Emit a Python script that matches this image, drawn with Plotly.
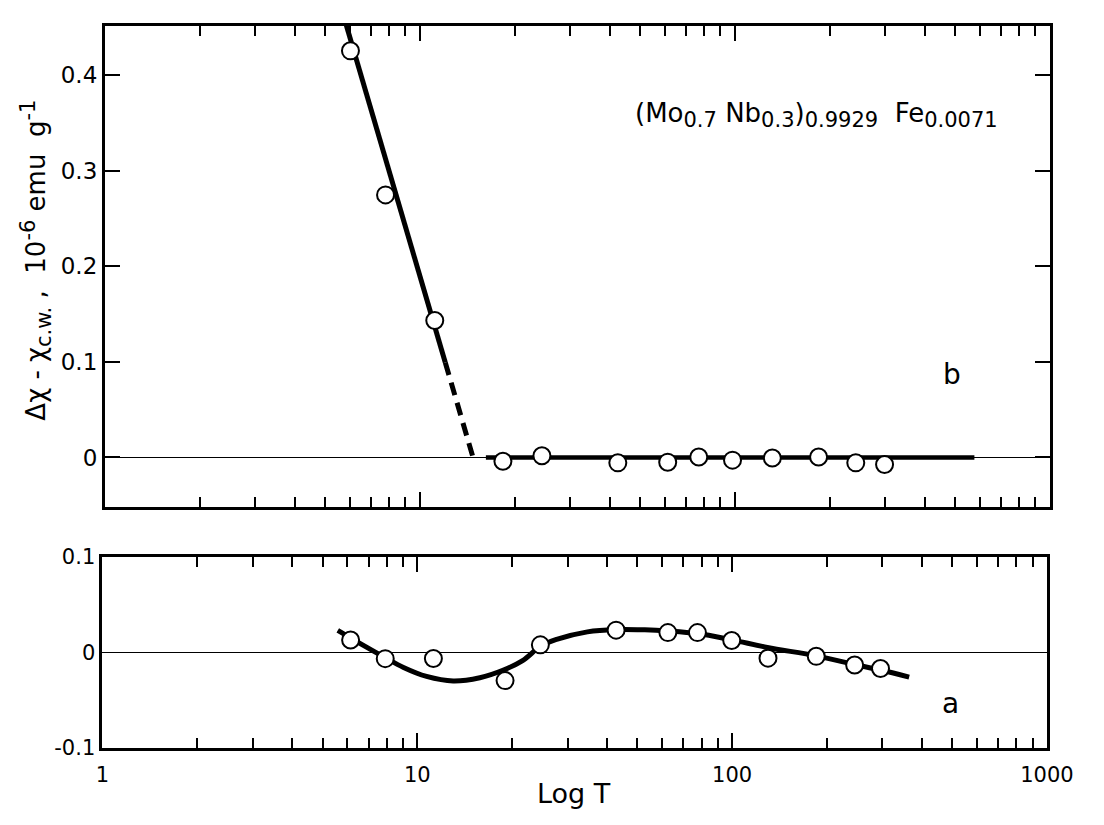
import plotly.graph_objects as go

# ---- data ----
# panel b (top): measured points
b_T = [6.02, 7.78, 11.15, 18.35, 24.4, 42.5, 61.2, 76.8, 98.3, 131.5, 184.4, 242.0, 298.7]
b_val = [0.4256, 0.2748, 0.1433, -0.0039, 0.0018, -0.0056, -0.0049, 0.0005, -0.0028, -0.0005, 0.0005, -0.0056, -0.0073]
# panel b guide lines
b_solid_T = [5.75, 12.04]
b_solid_val = [0.46, 0.0994]
b_dash_T = [12.04, 14.75, 15.3]
b_dash_val = [0.0994, 0.0, 0.0]
b_flat_T = [16.2, 576.0]
b_flat_val = [0.0, 0.0]

# panel a (bottom): measured points
a_T = [6.14, 7.91, 11.25, 19.0, 24.6, 42.8, 62.5, 77.6, 99.7, 130.0, 185.0, 245.0, 296.0]
a_val = [0.0129, -0.0066, -0.0064, -0.0296, 0.0078, 0.0232, 0.0206, 0.0206, 0.0124, -0.0061, -0.0042, -0.0132, -0.0169]
# panel a smooth guide curve (knots)
a_curve_T = [5.59, 6.83, 7.91, 9.04, 10.7, 13.0, 15.8, 18.7, 21.6, 24.7, 27.7, 34.7,
             42.8, 52.8, 62.5, 77.6, 99.7, 129.4, 185.2, 245.4, 296.0, 365.0]
a_curve_val = [0.0230, 0.0062, -0.0056, -0.0158, -0.0252, -0.0300, -0.0266, -0.0188, -0.0087, 0.0067,
               0.0135, 0.0214, 0.0238, 0.0235, 0.0223, 0.0196, 0.0130, 0.0051, -0.0037, -0.0128,
               -0.0185, -0.0260]

x_major = [1, 10, 100, 1000]
x_major_text = ["1", "10", "100", "1000"]
x_minor = [2, 3, 4, 5, 6, 7, 8, 9, 20, 30, 40, 50, 60, 70, 80, 90, 200, 300, 400, 500, 600, 700, 800, 900]
yb_ticks = [0, 0.1, 0.2, 0.3, 0.4]
yb_text = ["0", "0.1", "0.2", "0.3", "0.4"]
ya_ticks = [-0.1, 0, 0.1]
ya_text = ["-0.1", "0", "0.1"]

W, H = 1104, 825
FONT = "DejaVu Sans"

def px_x(p):
    return p / W

def px_y(p):
    return 1 - p / H

def sub(s, size):
    return '<sub><span style="font-size:%dpx">%s</span></sub>' % (size, s)

def sup(s, size):
    return '<sup><span style="font-size:%dpx">%s</span></sup>' % (size, s)

fig = go.Figure()

line_style = dict(color="black", width=5)
marker_style = dict(symbol="circle", size=17, color="white", line=dict(color="black", width=2))

# top panel
fig.add_trace(go.Scatter(x=b_solid_T, y=b_solid_val, mode="lines", line=line_style,
                         xaxis="x", yaxis="y", showlegend=False, hoverinfo="skip"))
fig.add_trace(go.Scatter(x=b_dash_T, y=b_dash_val, mode="lines",
                         line=dict(color="black", width=5, dash="13px,8px"),
                         xaxis="x", yaxis="y", showlegend=False, hoverinfo="skip"))
fig.add_trace(go.Scatter(x=b_flat_T, y=b_flat_val, mode="lines", line=dict(color="black", width=4.5),
                         xaxis="x", yaxis="y", showlegend=False, hoverinfo="skip"))
fig.add_trace(go.Scatter(x=b_T, y=b_val, mode="markers", marker=marker_style,
                         xaxis="x", yaxis="y", showlegend=False, cliponaxis=False))

# bottom panel
fig.add_trace(go.Scatter(x=a_curve_T, y=a_curve_val, mode="lines",
                         line=dict(color="black", width=5, shape="spline", smoothing=1.0),
                         xaxis="x2", yaxis="y2", showlegend=False, hoverinfo="skip"))
fig.add_trace(go.Scatter(x=a_T, y=a_val, mode="markers", marker=marker_style,
                         xaxis="x2", yaxis="y2", showlegend=False))

xfont = dict(family=FONT, size=21, color="black")
ytopfont = dict(family=FONT, size=23, color="black")
ybotfont = dict(family=FONT, size=21, color="black")

common_x = dict(
    type="log", range=[0, 3], showgrid=False, zeroline=False,
    showline=True, linewidth=3, linecolor="black", mirror="allticks",
    tickmode="array", tickvals=x_major, ticks="inside", ticklen=15, tickwidth=1.5, tickcolor="black",
    minor=dict(tickmode="array", tickvals=x_minor, ticks="inside", ticklen=10, tickwidth=1.5, tickcolor="black"),
    tickfont=xfont, fixedrange=True, ticklabeloverflow="allow",
)

fig.update_layout(
    width=W, height=H,
    margin=dict(l=0, r=0, t=0, b=0),
    paper_bgcolor="white", plot_bgcolor="white",
    xaxis=dict(common_x, domain=[px_x(101), px_x(1076)], anchor="y", showticklabels=False),
    yaxis=dict(domain=[px_y(510), px_y(14)], anchor="x", range=[-0.052, 0.452],
               showgrid=False, zeroline=True, zerolinecolor="black", zerolinewidth=1,
               showline=True, linewidth=3, linecolor="black", mirror="allticks",
               tickmode="array", tickvals=yb_ticks, ticktext=yb_text,
               ticks="inside", ticklen=15, tickwidth=1.5, tickcolor="black",
               tickfont=ytopfont, fixedrange=True),
    xaxis2=dict(common_x, domain=[px_x(98.5), px_x(1073)], anchor="y2",
                ticktext=x_major_text, showticklabels=True, ticklabelstandoff=6),
    yaxis2=dict(domain=[px_y(758), px_y(561)], anchor="x2", range=[-0.1, 0.1],
                showgrid=False, zeroline=True, zerolinecolor="black", zerolinewidth=1,
                showline=True, linewidth=3, linecolor="black", mirror=True,
                tickmode="array", tickvals=ya_ticks, ticktext=ya_text, ticks="",
                tickfont=ybotfont, fixedrange=True),
    font=dict(family=FONT, color="black"),
)

fig.add_annotation(
    text="Δχ - χ" + sub("c.w.", 21) + " ,  10" + sup("-6", 21) + " emu  g" + sup("-1", 21),
    x=px_x(29), y=px_y(256), xref="paper", yref="paper",
    textangle=-90, showarrow=False, font=dict(family=FONT, size=26, color="black"),
    xanchor="center", yanchor="middle",
)
fig.add_annotation(
    text="Log T", x=px_x(585), y=px_y(805), xref="paper", yref="paper",
    showarrow=False, font=dict(family=FONT, size=27, color="black"),
    xanchor="center", yanchor="middle",
)
fig.add_annotation(
    text="(Mo" + sub("0.7", 21) + " Nb" + sub("0.3", 21) + ")" + sub("0.9929", 21)
         + "  Fe" + sub("0.0071", 21),
    x=px_x(835), y=px_y(106), xref="paper", yref="paper",
    showarrow=False, font=dict(family=FONT, size=26, color="black"),
    xanchor="center", yanchor="middle",
)
fig.add_annotation(
    text="b", x=px_x(975), y=px_y(373), xref="paper", yref="paper",
    showarrow=False, font=dict(family=FONT, size=28, color="black"),
    xanchor="center", yanchor="middle",
)
fig.add_annotation(
    text="a", x=px_x(973), y=px_y(712), xref="paper", yref="paper",
    showarrow=False, font=dict(family=FONT, size=28, color="black"),
    xanchor="center", yanchor="middle",
)

fig.write_html(
    "out.html",
    config={"displayModeBar": False},
    post_script="document.body.style.margin='0';document.body.style.overflow='hidden';",
)
